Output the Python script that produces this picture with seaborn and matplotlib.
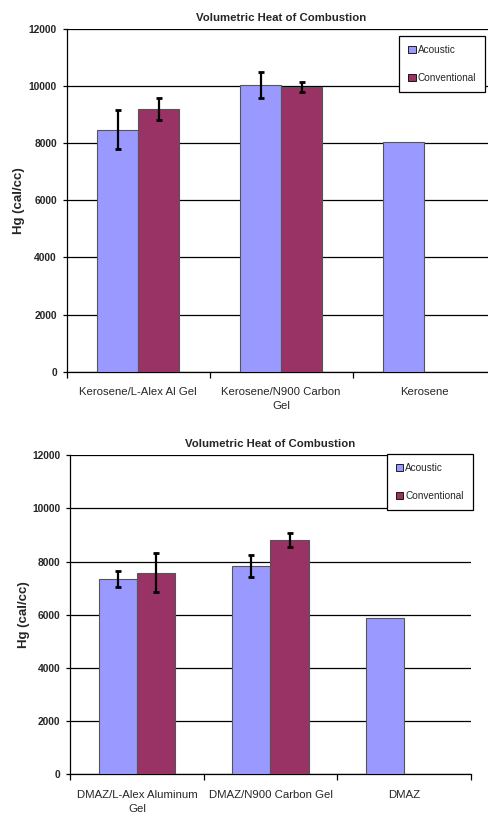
import numpy as np
import pandas as pd
import seaborn as sns
import matplotlib.pyplot as plt

# data
series = ['Acoustic', 'Conventional']

top_cats = ['Kerosene/L-Alex Al Gel', 'Kerosene/N900 Carbon\nGel', 'Kerosene']
top_acoustic = [8480, 10050, 8030]
top_acoustic_err = [700, 460, 0]
top_conventional = [9200, 9980, np.nan]
top_conventional_err = [400, 180, 0]

bot_cats = ['DMAZ/L-Alex Aluminum\nGel', 'DMAZ/N900 Carbon Gel', 'DMAZ']
bot_acoustic = [7340, 7820, 5860]
bot_acoustic_err = [300, 410, 0]
bot_conventional = [7580, 8810, np.nan]
bot_conventional_err = [740, 250, 0]

yticks = [0, 2000, 4000, 6000, 8000, 10000, 12000]
title = 'Volumetric Heat of Combustion'
ylabel = 'Hg (cal/cc)'
colors = {'Acoustic': '#9999FF', 'Conventional': '#993366'}

sns.set_theme(style='white')
plt.rcParams['font.family'] = ['Liberation Sans', 'DejaVu Sans']


def make_df(cats, ac, ac_err, cv, cv_err):
    rows = []
    for c, v, e in zip(cats, ac, ac_err):
        rows.append({'cat': c, 'series': 'Acoustic', 'val': v, 'err': e})
    for c, v, e in zip(cats, cv, cv_err):
        rows.append({'cat': c, 'series': 'Conventional', 'val': v, 'err': e})
    return pd.DataFrame(rows)


def draw(ax, df, cats, legend_anchor, ylabelpad):
    sns.barplot(data=df, x='cat', y='val', hue='series', order=cats,
                hue_order=series, palette=colors, width=0.57, gap=0,
                edgecolor='#555555', linewidth=0.8, saturation=1,
                errorbar=None, ax=ax, zorder=3)
    # error bars at the centre of each drawn bar
    for cont, s in zip(ax.containers, series):
        sub = df[df['series'] == s].set_index('cat')
        for p in cont.patches:
            h = p.get_height()
            if not np.isfinite(h):
                continue
            xc = p.get_x() + p.get_width() / 2
            cat = cats[int(round(xc))]
            e = sub.loc[cat, 'err']
            if e > 0:
                ax.errorbar(xc, h, yerr=e, fmt='none', ecolor='black',
                            elinewidth=1.6, capsize=2.2, capthick=2, zorder=4)
    ax.set_ylim(0, 12000)
    ax.set_xlim(-0.5, len(cats) - 0.5)
    ax.set_yticks(yticks)
    ax.set_yticklabels([str(t) for t in yticks], fontsize=7.4, fontweight='bold')
    ax.yaxis.grid(True, color='black', linewidth=0.9, zorder=0)
    ax.set_axisbelow(True)
    ax.tick_params(axis='y', left=True, length=3, width=0.9, pad=4, color='black')
    ax.tick_params(axis='x', bottom=False, length=0, pad=11, labelsize=8.2)
    ax.set_xticks(np.arange(-0.5, len(cats)), minor=True)
    ax.tick_params(axis='x', which='minor', bottom=True, length=4, width=0.9,
                   color='black', direction='out')
    for lab in ax.get_xticklabels():
        lab.set_horizontalalignment('center')
        lab.set_multialignment('center')
        lab.set_linespacing(1.55)
    for side in ['top', 'right']:
        ax.spines[side].set_visible(False)
    for side in ['left', 'bottom']:
        ax.spines[side].set_color('black')
        ax.spines[side].set_linewidth(0.9)
    ax.set_xlabel('')
    ax.set_ylabel(ylabel, fontsize=9.5, fontweight='bold', labelpad=ylabelpad)
    ax.set_title(title, fontsize=8.2, fontweight='bold', pad=6)
    leg = ax.legend(loc='upper right', bbox_to_anchor=legend_anchor,
                    bbox_transform=ax.figure.transFigure, fontsize=7.2,
                    frameon=True, fancybox=False, framealpha=1,
                    edgecolor='black', handlelength=0.75, handleheight=0.75,
                    handletextpad=0.2, labelspacing=1.8, borderpad=0.9,
                    borderaxespad=0)
    leg.get_frame().set_linewidth(0.9)
    for h in leg.legend_handles:
        h.set_edgecolor('black')
        h.set_linewidth(0.6)


fig = plt.figure(figsize=(4.88, 8.14), dpi=100)
ax1 = fig.add_axes([0.1367, 0.5434, 0.879, 0.421])
ax2 = fig.add_axes([0.1441, 0.0488, 0.8204, 0.3919])

df_top = make_df(top_cats, top_acoustic, top_acoustic_err,
                 top_conventional, top_conventional_err)
df_bot = make_df(bot_cats, bot_acoustic, bot_acoustic_err,
                 bot_conventional, bot_conventional_err)

draw(ax1, df_top, top_cats, (0.9939, 0.9561), 3)
draw(ax2, df_bot, bot_cats, (0.9686, 0.4419), 2)

fig.savefig('out.png', dpi=100)
